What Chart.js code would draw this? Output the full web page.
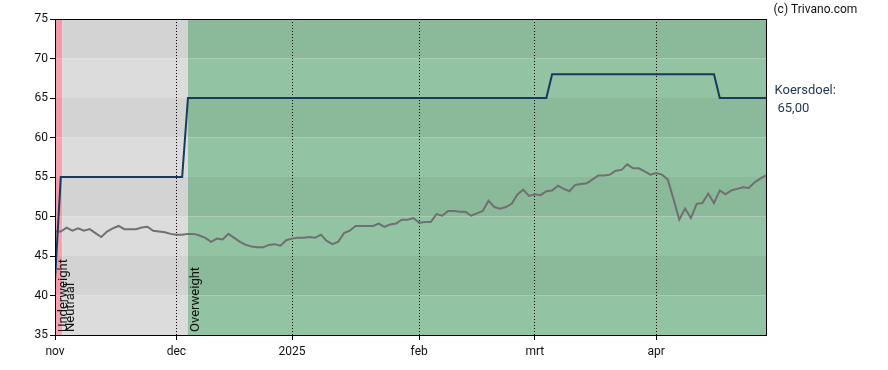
<!DOCTYPE html>
<html>
<head>
<meta charset="utf-8">
<script src="https://cdn.jsdelivr.net/npm/chart.js@4.4.0/dist/chart.umd.min.js"></script>
<style>
  html, body { margin: 0; padding: 0; background: #fff; }
</style>
</head>
<body>
<canvas id="koers" width="888" height="370"></canvas>
<script>
// ─── Data ─────────────────────────────────────────────────────────────────────
// x = trading day index from 1 nov 2024
const monthTicks  = [0, 21, 41, 63, 83, 104];
const monthLabels = ['nov', 'dec', '2025', 'feb', 'mrt', 'apr'];

const koers = [
    // nov
    48.1, 48.1, 48.6, 48.2, 48.5, 48.2, 48.4, 47.9, 47.4, 48.1, 48.5,
    48.8, 48.4, 48.4, 48.4, 48.6, 48.7, 48.2, 48.1, 48.0, 47.8,
    // dec
    47.7, 47.7, 47.8, 47.8, 47.6, 47.3, 46.8, 47.2, 47.1, 47.8,
    47.3, 46.8, 46.4, 46.2, 46.1, 46.1, 46.4, 46.5, 46.3, 47.0,
    // jan
    47.2, 47.3, 47.3, 47.4, 47.3, 47.7, 46.9, 46.5, 46.8, 47.9, 48.2,
    48.8, 48.8, 48.8, 48.8, 49.1, 48.7, 49.0, 49.1, 49.6, 49.6, 49.8,
    // feb
    49.2, 49.3, 49.3, 50.3, 50.1, 50.7, 50.7, 50.6, 50.6, 50.1,
    50.4, 50.7, 52.0, 51.2, 51.0, 51.2, 51.6, 52.8, 53.4, 52.6,
    // mrt
    52.8, 52.7, 53.2, 53.3, 53.9, 53.5, 53.2, 54.0, 54.1, 54.2, 54.7,
    55.2, 55.2, 55.3, 55.8, 55.9, 56.6, 56.1, 56.1, 55.7, 55.3,
    // apr
    55.5, 55.3, 54.7, 52.2, 49.6, 51.0, 49.8, 51.6, 51.7, 52.9,
    51.7, 53.3, 52.8, 53.3, 53.5, 53.7, 53.6, 54.3, 54.8, 55.2,
];

const doelIdx = [0, 1, 22, 23, 85, 86, 114, 115, 123];
const doelVal = [42, 55, 55, 65, 65, 68, 68, 65, 65];

const ratingStart  = [0, 1.25, 23];
const ratingEnd    = [1.25, 23, 123];
const ratingLabels = ['Underweight', 'Neutraal', 'Overweight'];

// ─── Styles ───────────────────────────────────────────────────────────────────
const ZONE_COLORS = {
    Underweight: ['#f5a3b2', '#f39aaa'],   // [light, dark]
    Neutraal:    ['#dcdcdc', '#d3d3d3'],
    Overweight:  ['#92c3a2', '#8aba9a'],
};
const FONT = 'Roboto';

Chart.defaults.font.family = FONT;
Chart.defaults.font.size = 12;
Chart.defaults.color = '#111';
Chart.defaults.animation = false;

// ─── Background zones, border and labels ─────────────────────────────────────
const backdrop = {
    id: 'backdrop',
    beforeDraw(chart) {
        const { ctx, scales: { x, y } } = chart;
        const bands = y.ticks.map(t => t.value);
        ctx.save();
        ratingStart.forEach((s, i) => {
            const x0 = x.getPixelForValue(s);
            const x1 = x.getPixelForValue(ratingEnd[i]);
            const pal = ZONE_COLORS[ratingLabels[i]];
            for (let k = 0; k < bands.length - 1; k++) {
                const y0 = y.getPixelForValue(bands[k + 1]);
                const y1 = y.getPixelForValue(bands[k]);
                ctx.fillStyle = pal[k % 2];
                ctx.fillRect(x0, y0, x1 - x0, y1 - y0);
            }
        });
        ctx.restore();
    },
    beforeDatasetsDraw(chart) {
        const { ctx, chartArea: a, scales: { x } } = chart;
        ctx.save();
        ctx.font = `13px ${FONT}`;
        ctx.fillStyle = '#111';
        ctx.textAlign = 'left';
        ctx.textBaseline = 'alphabetic';
        ratingStart.forEach((s, i) => {
            ctx.save();
            ctx.translate(x.getPixelForValue(s) + 11.5, a.bottom - 3);
            ctx.rotate(-Math.PI / 2);
            ctx.fillText(ratingLabels[i], 0, 0);
            ctx.restore();
        });
        ctx.restore();
    },
    afterDraw(chart) {
        const { ctx, chartArea: a, scales: { y } } = chart;
        ctx.save();
        ctx.strokeStyle = '#000';
        ctx.lineWidth = 1;
        ctx.strokeRect(Math.round(a.left) + 0.5, Math.round(a.top) + 0.5,
                       Math.round(a.right - a.left), Math.round(a.bottom - a.top));

        const last = doelVal[doelVal.length - 1];
        const yp = y.getPixelForValue(last);
        ctx.font = `13px ${FONT}`;
        ctx.fillStyle = '#1f3350';
        ctx.textBaseline = 'alphabetic';
        ctx.fillText('Koersdoel:', a.right + 8.5, yp - 4);
        ctx.fillText(last.toFixed(2).replace('.', ','), a.right + 11.5, yp + 14);

        ctx.font = `12px ${FONT}`;
        ctx.fillStyle = '#111';
        ctx.fillText('(c) Trivano.com', a.right + 7.5, 13);
        ctx.restore();
    }
};

// ─── Chart ────────────────────────────────────────────────────────────────────
new Chart(document.getElementById('koers'), {
    type: 'line',
    data: {
        datasets: [
            {
                label: 'Koersdoel',
                data: doelIdx.map((d, i) => ({ x: d, y: doelVal[i] })),
                borderColor: '#173a5e',
                borderWidth: 2,
                pointRadius: 0,
                tension: 0,
            },
            {
                label: 'Koers',
                data: koers.map((v, i) => ({ x: i, y: v })),
                borderColor: '#707070',
                borderWidth: 2,
                pointRadius: 0,
                tension: 0,
            },
        ]
    },
    options: {
        responsive: false,
        layout: { padding: { top: 19, right: 122, left: 0, bottom: 0 } },
        scales: {
            x: {
                type: 'linear',
                min: 0,
                max: koers.length - 1,
                afterBuildTicks: (s) => { s.ticks = monthTicks.map(v => ({ value: v })); },
                afterFit: (s) => { s.height = 35; },
                ticks: {
                    autoSkip: false,
                    maxRotation: 0,
                    padding: 5,
                    callback: (v) => monthLabels[monthTicks.indexOf(v)],
                },
                grid: { color: '#000', lineWidth: 1, tickLength: 5 },
                border: { color: '#000', width: 1, dash: [1, 2] },
            },
            y: {
                min: 35,
                max: 75,
                afterFit: (s) => { s.width = 55; },
                ticks: { stepSize: 5, padding: 2 },
                grid: { drawOnChartArea: false, color: '#000', tickLength: 5 },
                border: { color: '#000', width: 1 },
            }
        },
        plugins: {
            legend: { display: false },
            tooltip: { enabled: false },
        }
    },
    plugins: [backdrop]
});
</script>
</body>
</html>
